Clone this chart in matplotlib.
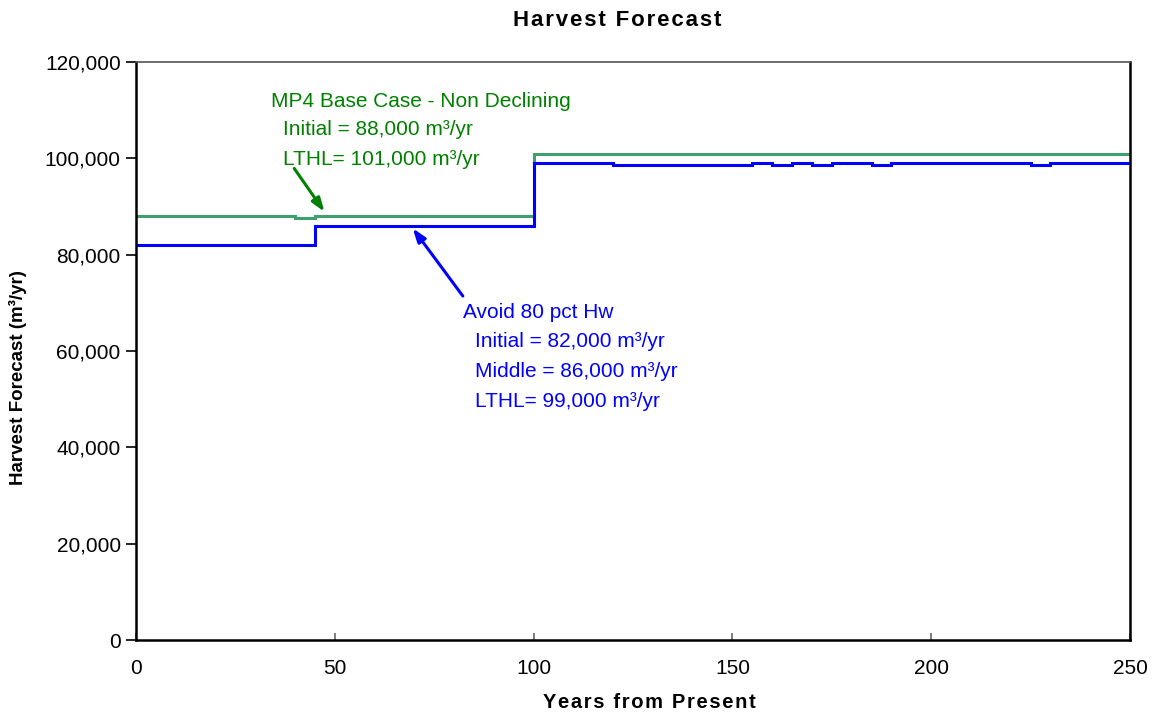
import matplotlib
matplotlib.use("Agg")
import matplotlib.pyplot as plt

plt.rcParams['font.family'] = ['Liberation Sans', 'DejaVu Sans']

# Period boundaries (years from present) and harvest levels (m³/yr)
base_years = [0, 40, 45, 100, 250]
base_harvest = [88000, 87600, 88000, 101000]

avoid_years = [0, 45, 100, 120, 155, 160, 165, 170, 175, 185, 190, 225, 230, 250]
avoid_harvest = [82000, 86000, 99000, 98600, 99000, 98600, 99000, 98600,
                 99000, 98600, 99000, 98600, 99000]

x_ticks = [0, 50, 100, 150, 200, 250]
x_tick_labels = ["0", "50", "100", "150", "200", "250"]
y_ticks = [0, 20000, 40000, 60000, 80000, 100000, 120000]
y_tick_labels = ["0", "20,000", "40,000", "60,000", "80,000", "100,000", "120,000"]

base_label = ["MP4 Base Case - Non Declining",
              "Initial = 88,000 m³/yr",
              "LTHL= 101,000 m³/yr"]
avoid_label = ["Avoid 80 pct Hw",
               "Initial = 82,000 m³/yr",
               "Middle = 86,000 m³/yr",
               "LTHL= 99,000 m³/yr"]

title = "Harvest Forecast"
x_title = "Years from Present"
y_title = "Harvest Forecast (m³/yr)"

LINE_GREEN = "#3f9f6f"
TEXT_GREEN = "#008000"
BLUE = "#0000ff"


def spaced(s):
    """Open up the tracking of a heading with hair spaces."""
    return "\u200a".join(s)


fig = plt.figure(figsize=(11.52, 7.13), dpi=100)
ax = fig.add_axes([136 / 1152, 1 - 640 / 713, (1130 - 136) / 1152, (640 - 62) / 713])

ax.stairs(base_harvest, base_years, color=LINE_GREEN, lw=2.2, baseline=None)
ax.stairs(avoid_harvest, avoid_years, color=BLUE, lw=2.2, baseline=None)

ax.set_xlim(0, 250)
ax.set_ylim(0, 120000)
ax.set_xticks(x_ticks)
ax.set_xticklabels(x_tick_labels, fontsize=15)
ax.set_yticks(y_ticks)
ax.set_yticklabels(y_tick_labels, fontsize=15)
ax.tick_params(axis='y', direction='out', length=7, width=1.2, pad=4)
ax.tick_params(axis='x', direction='in', length=5, width=1.2, color='#666666', pad=14)

for side in ['left', 'right', 'bottom']:
    ax.spines[side].set_linewidth(1.8)
    ax.spines[side].set_color('black')
ax.spines['top'].set_linewidth(1.2)
ax.spines['top'].set_color('#555555')

# Text blocks describing each scenario
ax.text(33.9, 110590, base_label[0], color=TEXT_GREEN, fontsize=15, va='baseline')
ax.text(37.0, 104840, base_label[1], color=TEXT_GREEN, fontsize=15, va='baseline')
ax.text(37.0, 98610, base_label[2], color=TEXT_GREEN, fontsize=15, va='baseline')

ax.text(82.2, 66780, avoid_label[0], color=BLUE, fontsize=15, va='baseline')
ax.text(85.3, 60760, avoid_label[1], color=BLUE, fontsize=15, va='baseline')
ax.text(85.3, 54660, avoid_label[2], color=BLUE, fontsize=15, va='baseline')
ax.text(85.3, 48430, avoid_label[3], color=BLUE, fontsize=15, va='baseline')

ax.annotate("", xy=(47.4, 88900), xytext=(39.8, 97900),
            arrowprops=dict(arrowstyle="-|>,head_length=0.8,head_width=0.28",
                            color=TEXT_GREEN, lw=2.2, shrinkA=0, shrinkB=0))
ax.annotate("", xy=(69.6, 85470), xytext=(82.2, 71410),
            arrowprops=dict(arrowstyle="-|>,head_length=0.8,head_width=0.28",
                            color=BLUE, lw=2.2, shrinkA=0, shrinkB=0))

fig.text(617 / 1152, 1 - 21 / 713, spaced(title), fontsize=16,
         fontweight='bold', ha='center', va='center')
fig.text(649 / 1152, 1 - 702 / 713, spaced(x_title), fontsize=14.5,
         fontweight='bold', ha='center', va='center')
fig.text(18 / 1152, 1 - 378 / 713, y_title, fontsize=13.5,
         fontweight='bold', ha='center', va='center', rotation=90)

fig.savefig("out.png", dpi=100)
